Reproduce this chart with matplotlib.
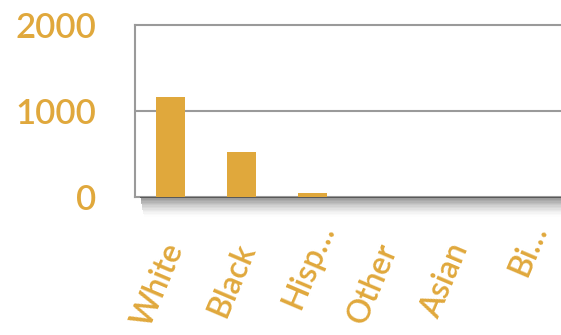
import numpy as np
import matplotlib.pyplot as plt
import matplotlib.transforms as mtransforms
from matplotlib.patches import Rectangle

# counts by race
categories = ["White", "Black", "Hisp\u2026", "Other", "Asian", "Bi\u2026"]
counts = [1165, 519, 51, 4, 3, 2]
y_ticks = [0, 1000, 2000]

gold = "#E0A83C"
edge = "#9a9a9a"

plt.rcParams['font.family'] = ['Lato', 'DejaVu Sans']

fig = plt.figure(figsize=(5.61, 3.35), dpi=100)
ax = fig.add_axes([0.2406, 0.412, 0.7594, 0.513])

# soft drop shadow under the plot frame
for i in range(14):
    fig.patches.append(Rectangle((0.250 + i * 0.0005, 0.412 - (i + 1) * 0.0042),
                                 0.76, 0.0042, transform=fig.transFigure,
                                 color="black", alpha=0.42 * (1 - i / 14) ** 1.5,
                                 lw=0, zorder=0))

x = np.arange(len(categories))
ax.bar(x, counts, width=0.41, color=gold, zorder=3)

ax.set_xlim(-0.5, len(categories) - 0.5)
ax.set_ylim(0, 2000)
ax.set_yticks(y_ticks)
ax.set_yticklabels([str(v) for v in y_ticks], fontsize=25, color=gold,
                   fontweight=600)
ax.tick_params(axis='y', length=0, pad=28)

ax.set_xticks(x)
ax.set_xticklabels(categories, fontsize=23, color=gold,
                   fontweight=600, rotation=67, ha='right',
                   rotation_mode='anchor')
ax.tick_params(axis='x', length=0, pad=31)

# truncated labels sit further out along their own direction
for lab in ax.get_xticklabels():
    dx, dy = -6 / 72, 1 / 72
    if lab.get_text().endswith("\u2026"):
        dx, dy = 0, 15 / 72
    lab.set_transform(lab.get_transform() +
                      mtransforms.ScaledTranslation(dx, dy, fig.dpi_scale_trans))

ax.axhline(1000, color=edge, lw=1.5, zorder=2)
for side in ['left', 'top', 'bottom']:
    ax.spines[side].set_color(edge)
    ax.spines[side].set_linewidth(1.5)
ax.spines['right'].set_visible(False)

fig.savefig("out.png", dpi=100)
